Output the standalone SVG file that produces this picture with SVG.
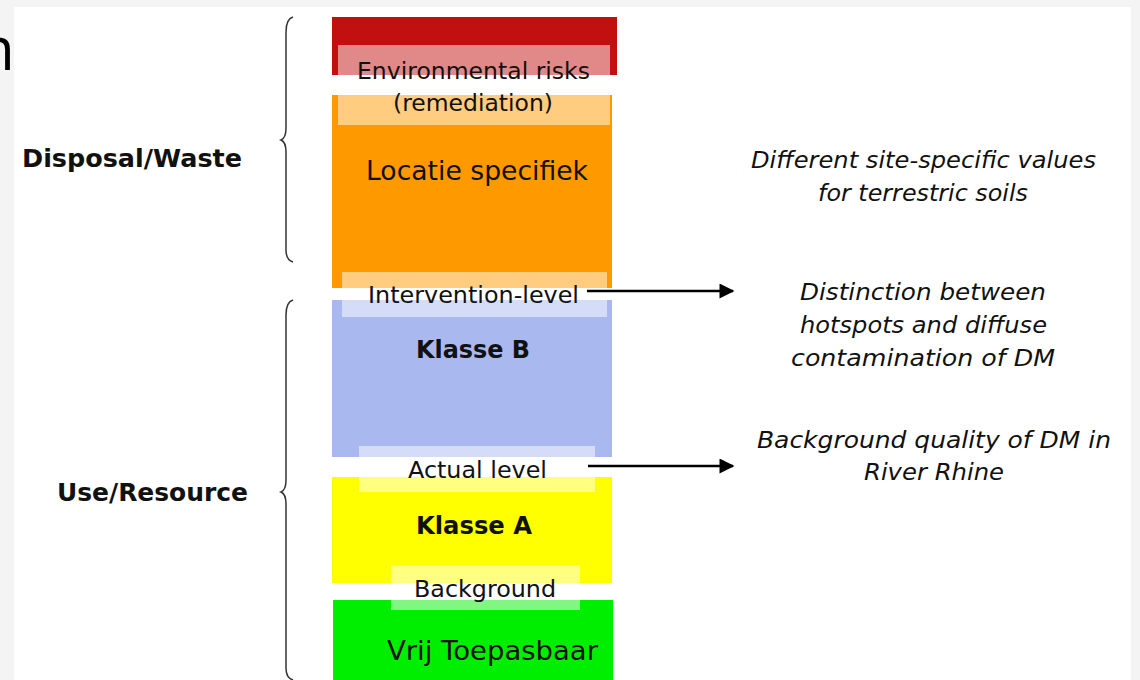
<svg xmlns="http://www.w3.org/2000/svg" width="1140" height="680" viewBox="0 0 1140 680">
<defs>
<style>
.t{font-family:"DejaVu Sans","Liberation Sans",sans-serif;fill:#111;text-anchor:middle}
.b{font-weight:bold}
.i{font-style:italic}
.band{fill:#fff;fill-opacity:0.5}
.brace{fill:none;stroke:#333;stroke-width:1.5}
.conn{stroke:#000;stroke-width:2.5;fill:none}
</style>
<marker id="ah" viewBox="0 0 10 10" refX="9" refY="5" markerWidth="6.5" markerHeight="6" markerUnits="strokeWidth" orient="auto">
<path d="M0,0 L10,5 L0,10 z" fill="#000"/>
</marker>
</defs>
<rect x="0" y="0" width="1140" height="680" fill="#f4f4f4"/>
<rect x="14" y="7" width="1117" height="673" fill="#fff"/>
<text x="-22" y="70" font-family="Open Sans, sans-serif" font-size="60" fill="#000">n</text>

<g id="red">
<rect x="332" y="17" width="285" height="58" fill="#c21010"/>
</g>
<g id="orange">
<rect x="332" y="95" width="280" height="193" fill="#ff9900"/>
<text class="t" x="477" y="180" font-size="27" textLength="222" lengthAdjust="spacingAndGlyphs">Locatie specifiek</text>
</g>
<g id="blue">
<rect x="332" y="300" width="280" height="157" fill="#a9b9ef"/>
<text class="t b" x="473" y="358" font-size="25" textLength="114" lengthAdjust="spacingAndGlyphs">Klasse B</text>
</g>
<g id="yellow">
<rect x="332" y="477" width="280" height="106" fill="#ffff00"/>
<text class="t b" x="474" y="534" font-size="25" textLength="116" lengthAdjust="spacingAndGlyphs">Klasse A</text>
</g>
<g id="green">
<rect x="333" y="600" width="280" height="80" fill="#00ee00"/>
<text class="t" x="492.5" y="660" font-size="27" textLength="211" lengthAdjust="spacingAndGlyphs">Vrij Toepasbaar</text>
</g>

<g id="env-risks">
<rect class="band" x="338" y="45" width="272" height="80"/>
<text class="t" x="473.5" y="79" font-size="23" textLength="233" lengthAdjust="spacingAndGlyphs">Environmental risks</text>
<text class="t" x="473" y="111" font-size="23" textLength="160" lengthAdjust="spacingAndGlyphs">(remediation)</text>
</g>
<g id="intervention">
<rect class="band" x="342" y="272" width="265" height="45"/>
<text class="t" x="473.5" y="303" font-size="23" textLength="211" lengthAdjust="spacingAndGlyphs">Intervention-level</text>
</g>
<g id="actual">
<rect class="band" x="359" y="446" width="236" height="46"/>
<text class="t" x="477.5" y="478" font-size="23" textLength="139" lengthAdjust="spacingAndGlyphs">Actual level</text>
</g>
<g id="background">
<rect class="band" x="391" y="565" width="189" height="45"/>
<text class="t" x="485" y="597" font-size="23" textLength="142" lengthAdjust="spacingAndGlyphs">Background</text>
</g>

<g id="disposal">
<path class="brace" d="M293,17 Q286,19 286,32 L286,128 Q286,138 281,140 Q286,142 286,152 L286,250 Q286,260 293,262"/>
<text class="t b" x="132" y="167" font-size="25" textLength="220" lengthAdjust="spacingAndGlyphs">Disposal/Waste</text>
</g>
<g id="use">
<path class="brace" d="M293,300 Q286,302 286,315 L286,480 Q286,490 281,492 Q286,494 286,504 L286,668 Q286,678 293,680"/>
<text class="t b" x="152.5" y="501" font-size="25" textLength="191" lengthAdjust="spacingAndGlyphs">Use/Resource</text>
</g>

<g id="note-site">
<text class="t i" x="923.5" y="168" font-size="23" textLength="345" lengthAdjust="spacingAndGlyphs">Different site-specific values</text>
<text class="t i" x="923" y="201" font-size="23" textLength="210" lengthAdjust="spacingAndGlyphs">for terrestric soils</text>
</g>
<g id="note-distinction">
<text class="t i" x="923" y="300" font-size="23" textLength="246" lengthAdjust="spacingAndGlyphs">Distinction between</text>
<text class="t i" x="923.5" y="333" font-size="23" textLength="247" lengthAdjust="spacingAndGlyphs">hotspots and diffuse</text>
<text class="t i" x="923" y="366" font-size="23" textLength="264" lengthAdjust="spacingAndGlyphs">contamination of DM</text>
</g>
<g id="note-background">
<text class="t i" x="934" y="448" font-size="23" textLength="354" lengthAdjust="spacingAndGlyphs">Background quality of DM in</text>
<text class="t i" x="934" y="480" font-size="23" textLength="140" lengthAdjust="spacingAndGlyphs">River Rhine</text>
</g>

<g id="connectors">
<line class="conn" x1="587" y1="291" x2="733" y2="291" marker-end="url(#ah)"/>
<line class="conn" x1="588" y1="466" x2="733" y2="466" marker-end="url(#ah)"/>
</g>
</svg>
